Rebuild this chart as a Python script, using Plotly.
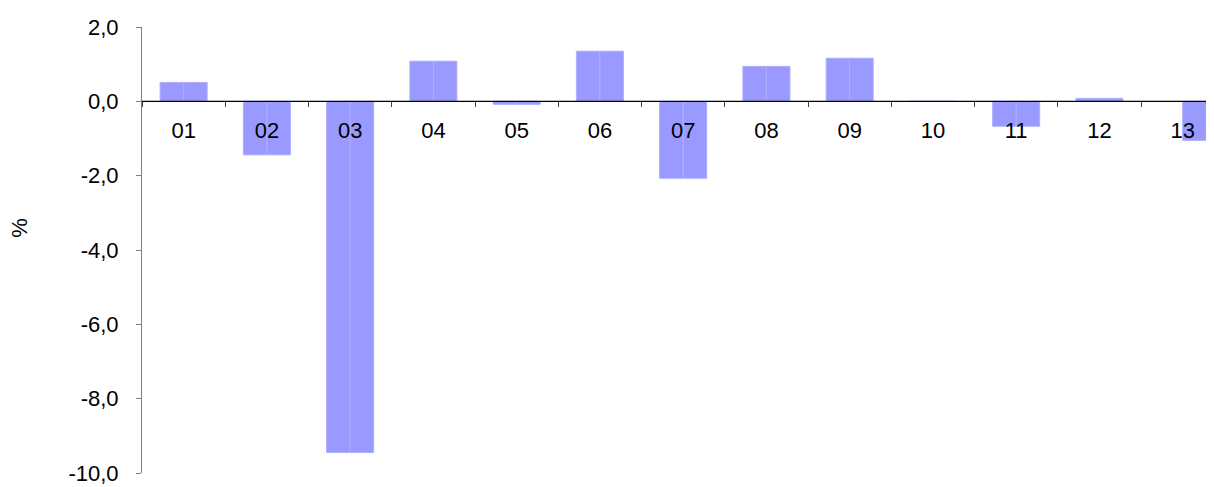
import plotly.graph_objects as go

categories = ["01", "02", "03", "04", "05", "06", "07", "08", "09", "10", "11", "12", "13"]
values = [0.51, -1.44, -9.45, 1.08, -0.08, 1.35, -2.07, 0.94, 1.16, 0.0, -0.67, 0.08, -1.05]
y_ticks = [2, 0, -2, -4, -6, -8, -10]
y_tick_labels = ["2,0", "0,0", "-2,0", "-4,0", "-6,0", "-8,0", "-10,0"]

bar_color = "#9999FF"
edge_color = "#ADADFF"
font_family = "Liberation Sans, Arial, sans-serif"

W, H = 1206, 479
ml, mr, mt, mb = 134, 8, 19, 14
ymin, ymax = -10, 2
zero_frac = (0 - ymin) / (ymax - ymin)
fs = 22

# left half of the last (cut-off) bar is not shown in the reference
n = len(categories)
left_fill = [bar_color] * (n - 1) + ["rgba(0,0,0,0)"]
left_edge = [edge_color] * (n - 1) + ["rgba(0,0,0,0)"]

fig = go.Figure()
fig.add_trace(go.Bar(
    x=categories, y=values,
    marker=dict(color=left_fill, line=dict(color=left_edge, width=1)),
    showlegend=False, hoverinfo="skip",
))
fig.add_trace(go.Bar(
    x=categories, y=values,
    marker=dict(color=bar_color, line=dict(color=edge_color, width=1)),
    showlegend=False, hoverinfo="skip",
))

fig.update_layout(
    width=W, height=H,
    margin=dict(l=ml, r=mr, t=mt, b=mb, pad=0, autoexpand=False),
    paper_bgcolor="white", plot_bgcolor="white",
    barmode="group", bargap=0.435, bargroupgap=0,
    font=dict(family=font_family, size=fs, color="black"),
    xaxis=dict(
        type="category", range=[-0.5, 12.28],
        anchor="free", position=zero_frac, automargin=False,
        showline=False, showgrid=False, zeroline=False,
        ticks="outside", tickson="boundaries", ticklen=5, tickwidth=1, tickcolor="#404040",
        tickfont=dict(size=fs, color="black"),
        ticklabelstandoff=14,
    ),
    yaxis=dict(
        range=[ymin, ymax], tickvals=y_ticks, ticktext=y_tick_labels,
        automargin=False,
        showline=True, linecolor="#808080", linewidth=1,
        showgrid=False, zeroline=False,
        ticks="outside", ticklen=5, tickcolor="#808080",
        tickfont=dict(size=fs, color="black"),
        ticklabelstandoff=13,
    ),
    shapes=[dict(
        type="line", xref="paper", yref="paper",
        x0=0, x1=(W - ml) / (W - ml - mr), y0=zero_frac, y1=zero_frac,
        line=dict(color="black", width=1.2),
    )],
    annotations=[dict(
        text="%", xref="paper", yref="paper",
        x=(12 - ml) / (W - ml - mr), y=0.55,
        xanchor="center", yanchor="middle", textangle=-90,
        showarrow=False, font=dict(size=fs, color="black"),
    )],
)

fig.write_html("out.html")
